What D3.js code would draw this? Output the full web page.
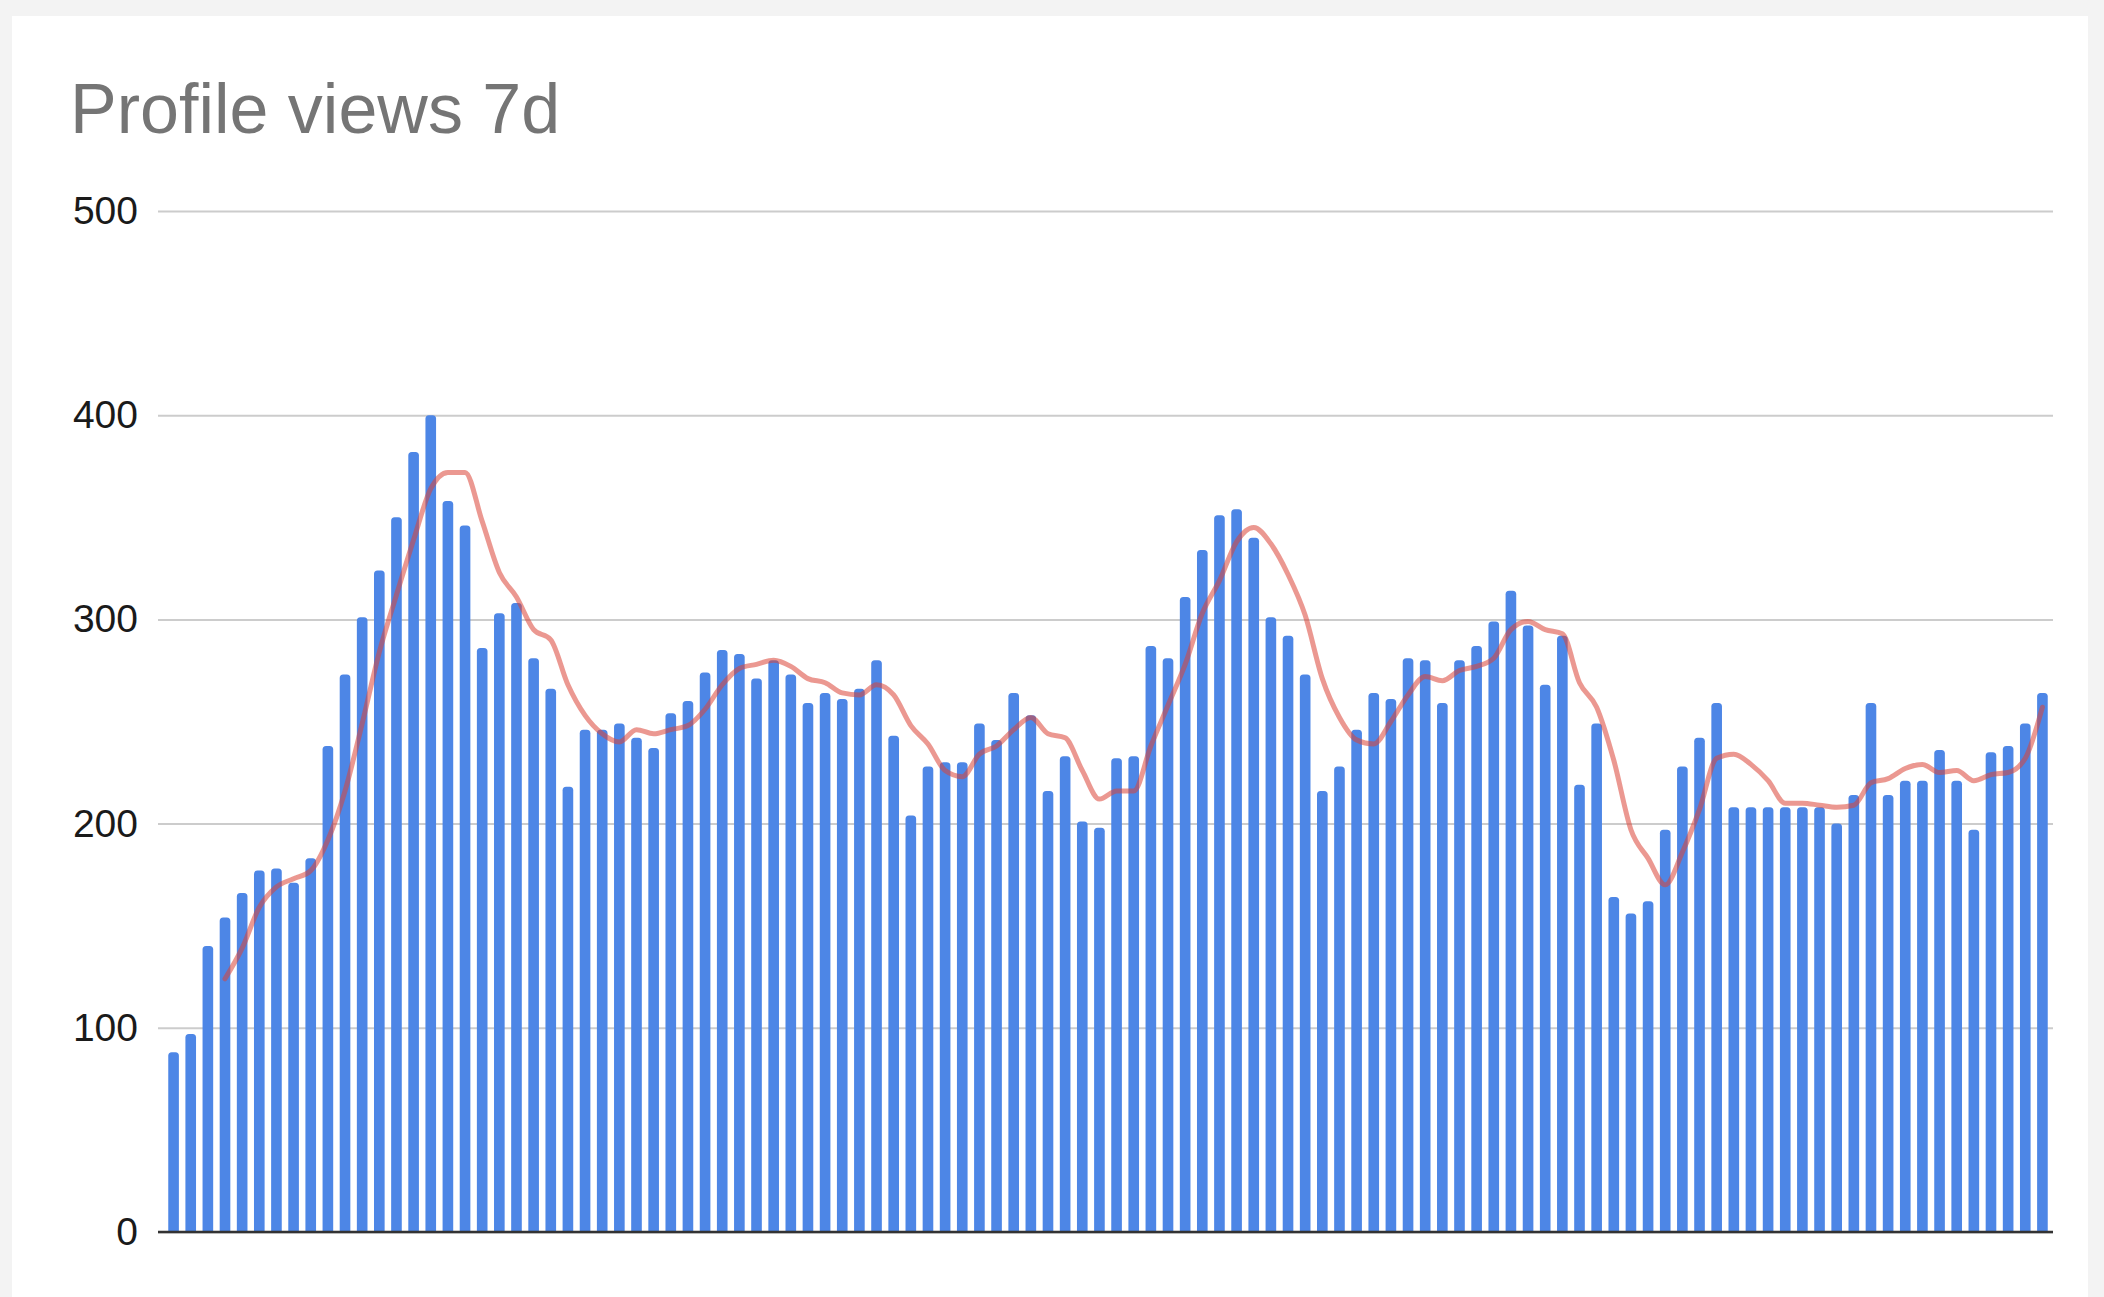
<!DOCTYPE html>
<html>
<head>
<meta charset="utf-8">
<script src="https://cdn.jsdelivr.net/npm/d3@7"></script>
<style>
  html, body { margin: 0; padding: 0; background: #f3f3f3; }
  svg { display: block; }
</style>
</head>
<body>
<svg id="chart" width="2104" height="1297"></svg>
<script>
// ---- data ----
const title = "Profile views 7d";
const yTicks = [0, 100, 200, 300, 400, 500];
const views = [
  88, 97, 140, 154, 166, 177, 178, 171, 183, 238,
  273, 301, 324, 350, 382, 400, 358, 346, 286, 303,
  308, 281, 266, 218, 246, 246, 249, 242, 237, 254,
  260, 274, 285, 283, 271, 280, 273, 259, 264, 261,
  266, 280, 243, 204, 228, 230, 230, 249, 241, 264,
  253, 216, 233, 201, 198, 232, 233, 287, 281, 311,
  334, 351, 354, 340, 301, 292, 273, 216, 228, 246,
  264, 261, 281, 280, 259, 280, 287, 299, 314, 297,
  268, 292, 219, 249, 164, 156, 162, 197, 228, 242,
  259, 208, 208, 208, 208, 208, 208, 200, 214, 259,
  214, 221, 221, 236, 221, 197, 235, 238, 249, 264
];
const trend = [
  null, null, null, 124, 139, 159, 169, 173, 177, 192,
  216, 249, 284, 312, 339, 364, 372, 372, 348, 323,
  311, 295, 290, 268, 253, 244, 240, 246, 244, 246,
  248, 256, 268, 276, 278, 280, 277, 271, 269, 264,
  263, 268, 263, 248, 239, 226, 223, 234, 238, 246,
  252, 244, 242, 226, 212, 216, 216, 238, 258, 278,
  303, 319, 338, 345, 337, 322, 302, 271, 252, 241,
  239, 250, 263, 272, 270, 275, 277, 281, 295, 299,
  295, 293, 269, 257, 231, 197, 183, 170, 186, 207,
  232, 234, 229, 221, 210, 210, 209, 208, 209, 220,
  222, 227, 229, 225, 226, 221, 224, 225, 232, 257
];
const days = views.map((_, i) => i + 1);

// ---- drawing ----
const svg = d3.select("#chart");

// card
svg.append("rect")
  .attr("x", 12).attr("y", 16)
  .attr("width", 2076).attr("height", 1297)
  .attr("fill", "#ffffff");

// title
svg.append("text")
  .attr("x", 70).attr("y", 133)
  .attr("font-family", "'Liberation Sans', Arial, sans-serif")
  .attr("font-size", 70)
  .attr("fill", "#757575")
  .text(title);

const plotLeft = 158, plotRight = 2053;
const y = d3.scaleLinear().domain([0, 500]).range([1232, 211]);
const x = d3.scaleBand()
  .domain(days)
  .range([165, 2051])
  .paddingInner(0.38)
  .paddingOuter(0.19);

// y axis with gridlines
const yAxis = d3.axisLeft(y)
  .tickValues(yTicks)
  .tickSize(-(plotRight - plotLeft))
  .tickPadding(20)
  .tickFormat(d3.format("d"));

const gy = svg.append("g")
  .attr("transform", `translate(${plotLeft},0)`)
  .call(yAxis);
gy.select(".domain").remove();
gy.selectAll(".tick line")
  .attr("stroke", "#cccccc")
  .attr("stroke-width", 2);
gy.selectAll(".tick text")
  .attr("font-family", "'Liberation Sans', Arial, sans-serif")
  .attr("font-size", 39)
  .attr("fill", "#1a1a1a");

// bars with slightly rounded tops
const r = 3.5;
function barPath(d, i) {
  const x0 = x(days[i]), w = x.bandwidth();
  const yt = y(d), yb = y(0);
  return `M${x0},${yb} L${x0},${yt + r} Q${x0},${yt} ${x0 + r},${yt} ` +
         `L${x0 + w - r},${yt} Q${x0 + w},${yt} ${x0 + w},${yt + r} L${x0 + w},${yb} Z`;
}
svg.append("g")
  .selectAll("path")
  .data(views)
  .join("path")
  .attr("d", barPath)
  .attr("fill", "#4d86e6");

// baseline
svg.append("line")
  .attr("x1", plotLeft).attr("x2", plotRight)
  .attr("y1", y(0)).attr("y2", y(0))
  .attr("stroke", "#333333")
  .attr("stroke-width", 2.5);

// trend line
const line = d3.line()
  .defined(d => d != null)
  .x((d, i) => x(days[i]) + x.bandwidth() / 2)
  .y(d => y(d))
  .curve(d3.curveMonotoneX);

svg.append("path")
  .datum(trend)
  .attr("d", line)
  .attr("fill", "none")
  .attr("stroke", "#db4437")
  .attr("stroke-opacity", 0.55)
  .attr("stroke-width", 5)
  .attr("stroke-linejoin", "round")
  .attr("stroke-linecap", "round");
</script>
</body>
</html>
